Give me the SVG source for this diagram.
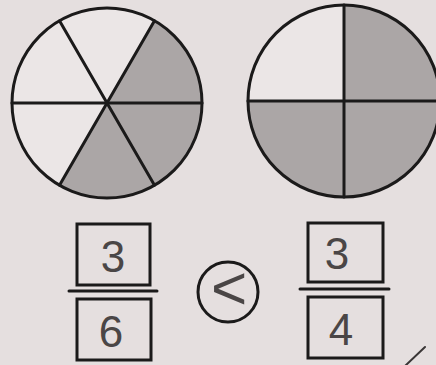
<svg xmlns="http://www.w3.org/2000/svg" width="436" height="365" viewBox="0 0 436 365">
<style>
.ln{stroke:#1b1a1a;stroke-width:3;fill:none;stroke-linecap:round}
.sh{fill:#aba6a6;stroke:none}
.box{fill:none;stroke:#1b1a1a;stroke-width:3}
.dg{font-family:"Liberation Sans","DejaVu Sans",sans-serif;font-size:44px;fill:#4a4646;text-anchor:middle}
</style>
<rect width="436" height="365" fill="#e5dfdf"/>
<g id="circle-sixths">
<circle cx="107" cy="103" r="95" fill="#ebe6e6"/>
<path class="sh" d="M107 103 L154.5 20.7 A95 95 0 0 1 202 103 Z"/>
<path class="sh" d="M107 103 L202 103 A95 95 0 0 1 154.5 185.3 Z"/>
<path class="sh" d="M107 103 L154.5 185.3 A95 95 0 0 1 59.5 185.3 Z"/>
<circle class="ln" cx="107" cy="103" r="95"/>
<line class="ln" x1="12" y1="103" x2="202" y2="103"/>
<line class="ln" x1="59.5" y1="20.7" x2="154.5" y2="185.3"/>
<line class="ln" x1="154.5" y1="20.7" x2="59.5" y2="185.3"/>
</g>
<g id="circle-quarters">
<circle cx="344" cy="101" r="96" fill="#ebe6e6"/>
<path class="sh" d="M344 101 L344 5 A96 96 0 0 1 440 101 Z"/>
<path class="sh" d="M344 101 L440 101 A96 96 0 0 1 248 101 Z"/>
<circle class="ln" cx="344" cy="101" r="96"/>
<line class="ln" x1="248" y1="101" x2="440" y2="101"/>
<line class="ln" x1="344" y1="5" x2="344" y2="197"/>
</g>
<g id="fraction-left">
<rect class="box" x="77" y="224" width="73" height="61"/>
<line class="ln" x1="69" y1="291" x2="157" y2="291"/>
<rect class="box" x="77" y="299" width="74" height="61"/>
<text class="dg" x="113" y="272">3</text>
<text class="dg" x="111" y="347">6</text>
</g>
<g id="comparison">
<circle class="ln" cx="228" cy="292" r="30"/>
<text class="dg" x="229" y="309" style="font-size:62px">&lt;</text>
</g>
<g id="fraction-right">
<rect class="box" x="308" y="223" width="75" height="59"/>
<line class="ln" x1="300" y1="289" x2="389" y2="289"/>
<rect class="box" x="308" y="297" width="75" height="61"/>
<text class="dg" x="337" y="269">3</text>
<text class="dg" x="341" y="345">4</text>
</g>
<g id="connectors">
<line x1="405" y1="366" x2="425" y2="347" stroke="#3a3636" stroke-width="2" stroke-linecap="round"/>
</g>
</svg>
